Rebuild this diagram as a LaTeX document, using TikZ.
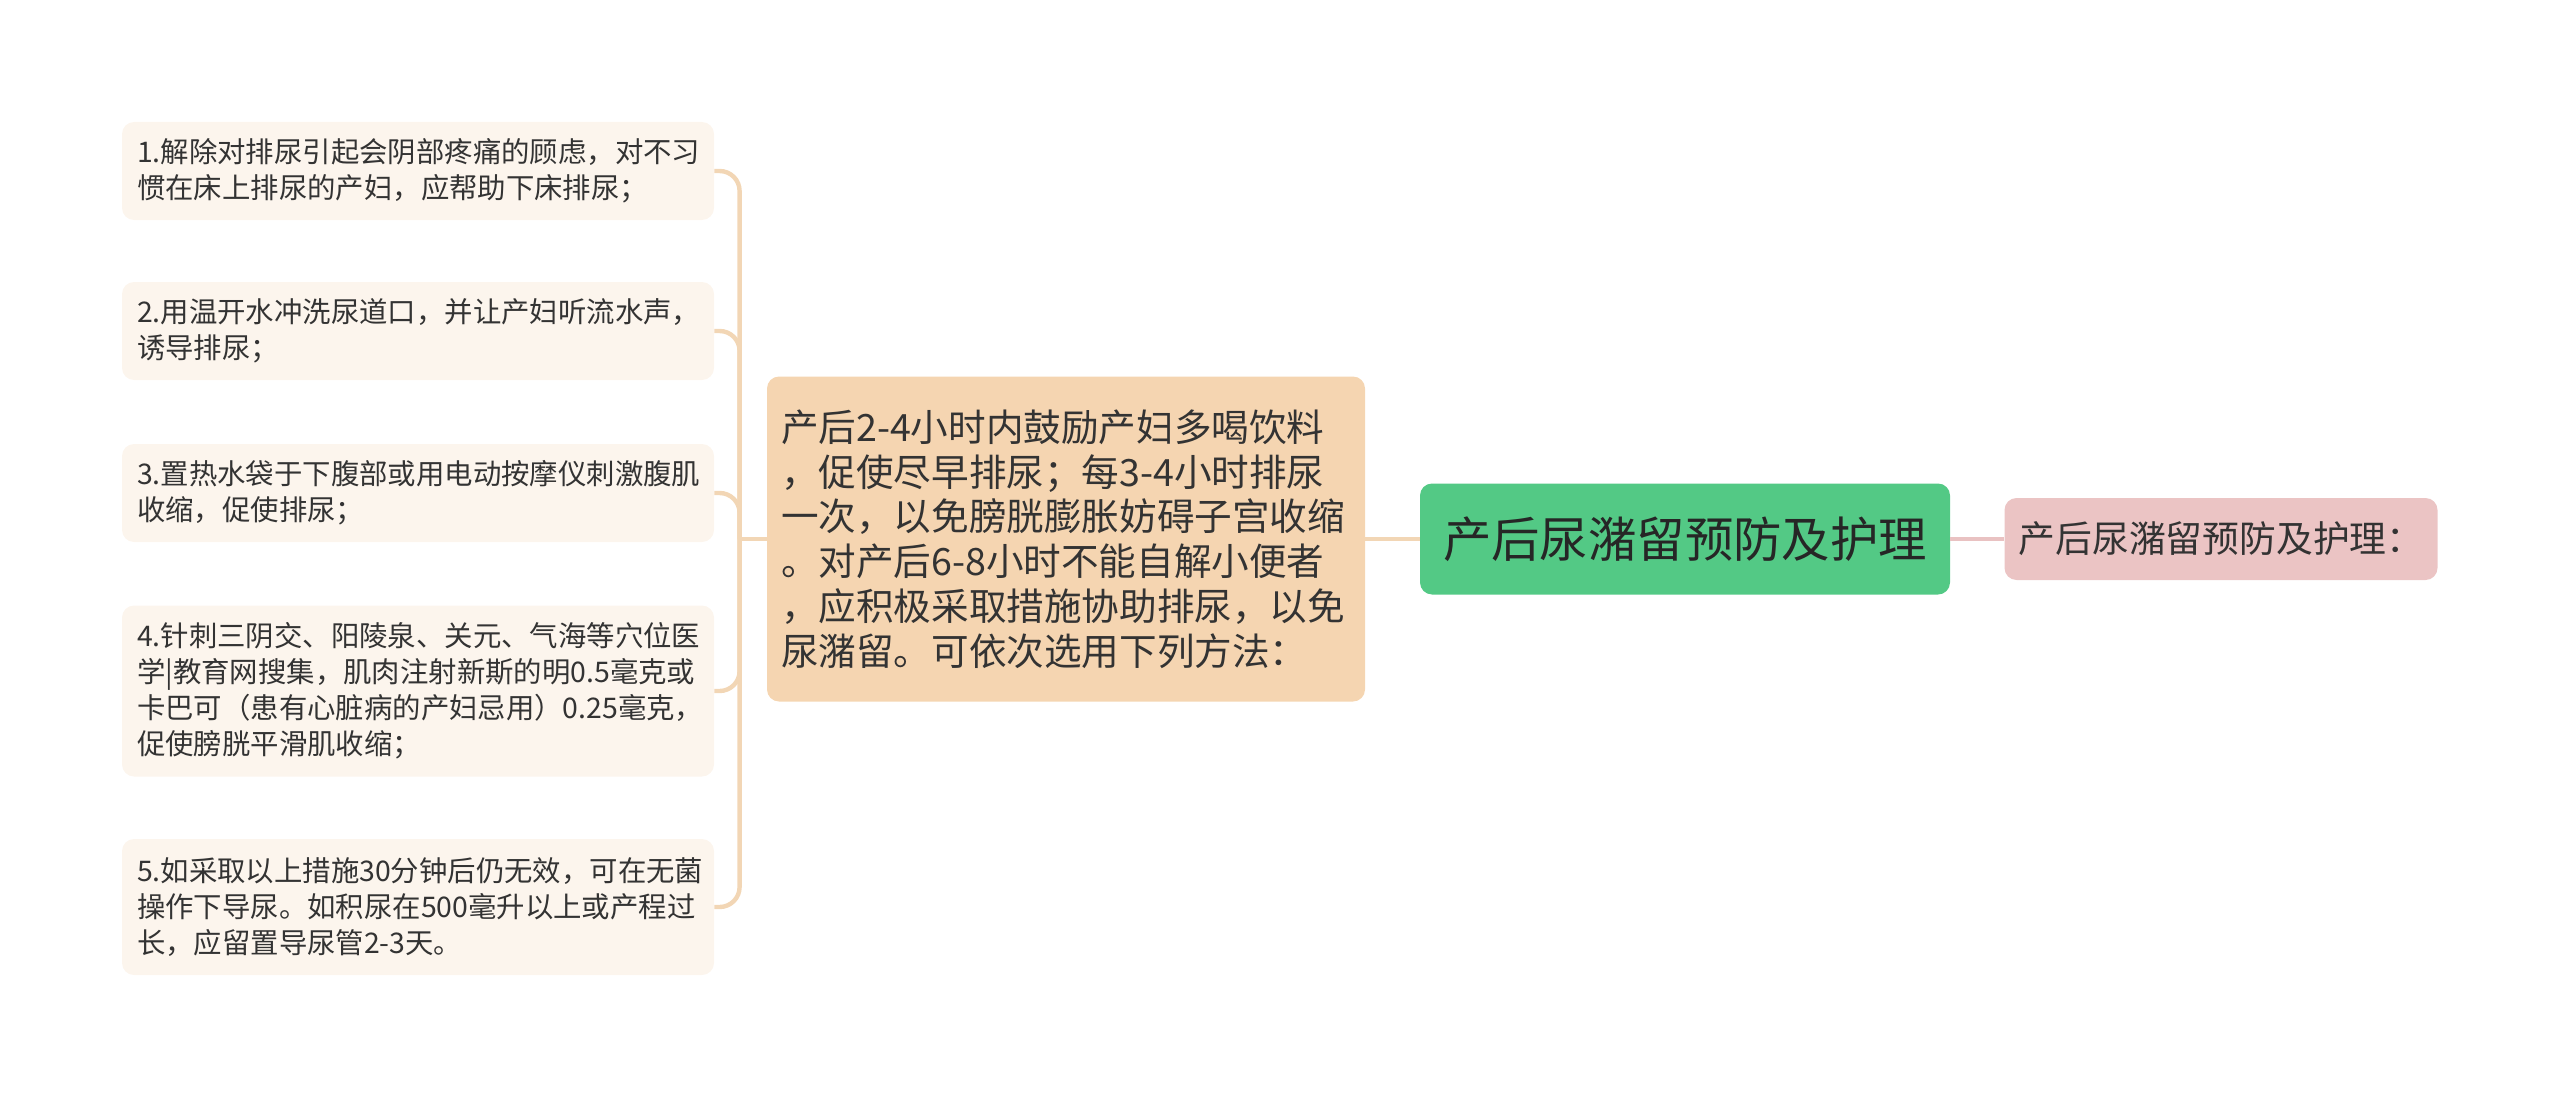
\documentclass[tikz,border=0pt]{standalone}
\usepackage{fontspec}
\setmainfont{Noto Sans CJK SC}
\usepackage{xcolor}
\usetikzlibrary{positioning}

\definecolor{leafbg}{HTML}{FCF5ED}
\definecolor{detailbg}{HTML}{F5D5B1}
\definecolor{rootbg}{HTML}{53C985}
\definecolor{subbg}{HTML}{EBC4C4}
\definecolor{linktan}{HTML}{F2D6B5}
\definecolor{linkpink}{HTML}{E9C2C2}
\definecolor{textgray}{HTML}{333333}

\begin{document}
\begin{tikzpicture}[x=0.5pt, y=-0.5pt,
    leaf/.style={rectangle, rounded corners=6pt, fill=leafbg, minimum width=296pt, text width=281pt, inner xsep=7.5pt, align=left, font=\fontsize{14.2}{18}\selectfont, text=textgray},
    detailbox/.style={rectangle, rounded corners=6pt, fill=detailbg, minimum width=299pt, minimum height=162.5pt, text width=285pt, inner xsep=7pt, align=left, font=\fontsize{18.8}{22.4}\selectfont, text=textgray},
    rootbox/.style={rectangle, rounded corners=6pt, fill=rootbg, minimum width=265pt, minimum height=55.5pt, align=center, font=\fontsize{24.2}{28}\selectfont, text=black!85},
    subbox/.style={rectangle, rounded corners=6pt, fill=subbg, minimum width=216.5pt, minimum height=41pt, align=center, font=\fontsize{18.4}{22}\selectfont, text=textgray},
    link/.style={draw=linktan, line width=2.2pt},
    pinklink/.style={draw=linkpink, line width=2.2pt}
]
    \useasboundingbox (0,0) rectangle (2560,1097);

    \node[rootbox] (root) at (1685,539) {产后尿潴留预防及护理};
    \node[subbox] (sub) at (2221,539) {产后尿潴留预防及护理：};
    \node[detailbox] (detail) at (1066,539) {产后2-4小时内鼓励产妇多喝饮料\\，促使尽早排尿；每3-4小时排尿\\一次，以免膀胱膨胀妨碍子宫收缩\\。对产后6-8小时不能自解小便者\\，应积极采取措施协助排尿，以免\\尿潴留。可依次选用下列方法：};

    \node[leaf, minimum height=49pt] (tip1) at (418,171) {1.解除对排尿引起会阴部疼痛的顾虑，对不习\\惯在床上排尿的产妇，应帮助下床排尿；};
    \node[leaf, minimum height=49pt] (tip2) at (418,331) {2.用温开水冲洗尿道口，并让产妇听流水声，\\诱导排尿；};
    \node[leaf, minimum height=49pt] (tip3) at (418,493) {3.置热水袋于下腹部或用电动按摩仪刺激腹肌\\收缩，促使排尿；};
    \node[leaf, minimum height=85.5pt] (tip4) at (418,691) {4.针刺三阴交、阳陵泉、关元、气海等穴位医\\学|教育网搜集，肌肉注射新斯的明0.5毫克或\\卡巴可（患有心脏病的产妇忌用）0.25毫克，\\促使膀胱平滑肌收缩；};
    \node[leaf, minimum height=68pt] (tip5) at (418,907) {5.如采取以上措施30分钟后仍无效，可在无菌\\操作下导尿。如积尿在500毫升以上或产程过\\长，应留置导尿管2-3天。};

    \draw[link] (root.west) -- (detail.east);
    \draw[pinklink] (root.east) -- (sub.west);
    \draw[link] (detail.west) -- ++(-27,0) coordinate (fork);
    \draw[link, rounded corners=10pt] (fork) |- (tip1.east);
    \draw[link, rounded corners=10pt] (fork) |- (tip2.east);
    \draw[link, rounded corners=10pt] (fork) |- (tip3.east);
    \draw[link, rounded corners=10pt] (fork) |- (tip4.east);
    \draw[link, rounded corners=10pt] (fork) |- (tip5.east);
\end{tikzpicture}
\end{document}
